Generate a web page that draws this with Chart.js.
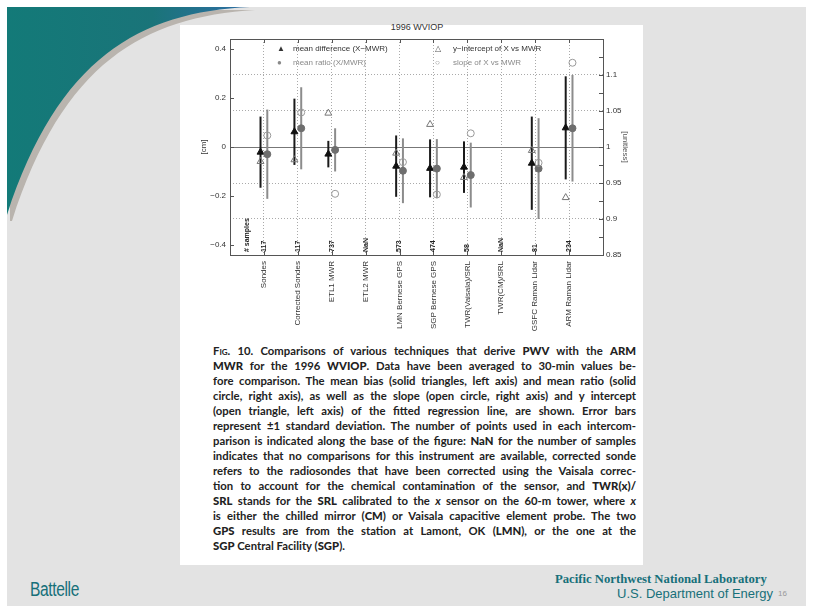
<!DOCTYPE html>
<html>
<head>
<meta charset="utf-8">
<script src="https://cdn.jsdelivr.net/npm/chart.js@4.4.1/dist/chart.umd.min.js"></script>
<style>
  body { margin: 0; width: 813px; height: 612px; background: #fff; overflow: hidden; position: relative; font-family: "Liberation Sans", Arial, sans-serif; }
  #slide { position: absolute; left: 7px; top: 7px; width: 799px; height: 599px; background: #e3e3e3; }
  #swoosh { position: absolute; left: 0; top: 0; }
  #panel { position: absolute; left: 180px; top: 25px; width: 463px; height: 540px; background: #fff; }
  #box { position: absolute; left: 180px; top: 16px; width: 460px; height: 324px; }
  .t { position: absolute; white-space: nowrap; }
  #title { left: 417px; top: 22px; transform: translateX(-50%); font-size: 9px; color: #333; }
  .leg { font-size: 8px; color: #333; line-height: 10px; }
  .gray { color: #8a8a8a; }
  #caption { position: absolute; left: 213px; top: 343px; width: 423px; font-family: Lato, "Open Sans", sans-serif; font-weight: 700; font-size: 11.3px; line-height: 15px; color: #222; }
  #caption div { text-align: justify; text-align-last: justify; white-space: nowrap; }
  #caption div.last { text-align-last: left; }
  #caption b { font-weight: 900; }
  .sc { font-variant: small-caps; }
  #battelle { left: 30px; top: 578px; font-family: "Liberation Sans", sans-serif; font-size: 20px; color: #17707a; transform: scaleX(0.78); transform-origin: left top; letter-spacing: -0.5px; }
  #pnnl { left: 555px; top: 571px; font-family: "Liberation Serif", serif; font-weight: 700; font-size: 13.5px; color: #17707a; transform: scaleX(0.94); transform-origin: left top; }
  #doe { left: 617px; top: 586px; font-family: "Liberation Sans", sans-serif; font-size: 13px; color: #17707a; }
  #page { left: 778px; top: 589px; font-size: 8px; color: #999; }
</style>
</head>
<body>
<div id="slide"></div>
<svg id="swoosh" width="813" height="612">
  <defs>
    <linearGradient id="tg" x1="0" y1="0" x2="1" y2="0">
      <stop offset="0" stop-color="#137a78"/>
      <stop offset="0.6" stop-color="#1a7479"/>
      <stop offset="1" stop-color="#2e6ea6"/>
    </linearGradient>
  </defs>
  <path d="M7,7 L252,7 C140,14 60,60 9,218 L7,218 Z" fill="#b9b4ae" transform="translate(3,3)"/>
  <path d="M7,7 L250,7 C140,12 58,58 7,215 Z" fill="url(#tg)"/>
</svg>
<div id="panel"></div>

<div class="t" id="title">1996 WVIOP</div>
<div id="box"><canvas id="chart"></canvas></div>

<div class="t leg" style="left:277px;top:44px;">▲</div>
<div class="t leg" style="left:293px;top:44px;">mean difference (X−MWR)</div>
<div class="t leg gray" style="left:277px;top:58px;">●</div>
<div class="t leg gray" style="left:293px;top:58px;">mean ratio (X/MWR)</div>
<div class="t leg" style="left:435px;top:44px;color:#555;">△</div>
<div class="t leg" style="left:453px;top:44px;">y−intercept of X vs MWR</div>
<div class="t leg gray" style="left:435px;top:58px;">○</div>
<div class="t leg gray" style="left:453px;top:58px;">slope of X vs MWR</div>

<div id="caption">
  <div><span class="sc">Fig</span>. 10. Comparisons of various techniques that derive <b>PWV</b> with the <b>ARM</b></div>
  <div><b>MWR</b> for the 1996 <b>WVIOP</b>. Data have been averaged to 30-min values be-</div>
  <div>fore comparison. The mean bias (solid triangles, left axis) and mean ratio (solid</div>
  <div>circle, right axis), as well as the slope (open circle, right axis) and y intercept</div>
  <div>(open triangle, left axis) of the fitted regression line, are shown. Error bars</div>
  <div>represent ±1 standard deviation. The number of points used in each intercom-</div>
  <div>parison is indicated along the base of the figure: <b>NaN</b> for the number of samples</div>
  <div>indicates that no comparisons for this instrument are available, corrected sonde</div>
  <div>refers to the radiosondes that have been corrected using the Vaisala correc-</div>
  <div>tion to account for the chemical contamination of the sensor, and <b>TWR(x)/</b></div>
  <div><b>SRL</b> stands for the <b>SRL</b> calibrated to the <i>x</i> sensor on the 60-m tower, where <i>x</i></div>
  <div>is either the chilled mirror (<b>CM</b>) or Vaisala capacitive element probe. The two</div>
  <div><b>GPS</b> results are from the station at Lamont, OK (<b>LMN</b>), or the one at the</div>
  <div class="last"><b>SGP</b> Central Facility (<b>SGP</b>).</div>
</div>

<div class="t" id="battelle">Battelle</div>
<div class="t" id="pnnl">Pacific Northwest National Laboratory</div>
<div class="t" id="doe">U.S. Department of Energy</div>
<div class="t" id="page">16</div>

<script>
// instruments compared against the ARM MWR
let categories = ['Sondes', 'Corrected Sondes', 'ETL1 MWR', 'ETL2 MWR', 'LMN Bernese GPS', 'SGP Bernese GPS',
                  'TWR(Vaisala)/SRL', 'TWR(CM)/SRL', 'GSFC Raman Lidar', 'ARM Raman Lidar'];
let samples = ['117', '117', '737', 'NaN', '573', '474', '58', 'NaN', '81', '234'];

// left axis [cm]
let meanDiff   = [-0.021, 0.062, -0.029, null, -0.078, -0.087, -0.082, null, -0.066, 0.078];
let meanDiffSd = [0.145, 0.135, 0.054, null, 0.125, 0.118, 0.105, null, 0.190, 0.210];
let yIntercept = [-0.059, -0.052, 0.138, null, -0.025, 0.092, -0.124, null, -0.014, -0.206];

// right axis [unitless]
let meanRatio   = [0.990, 1.026, 0.996, null, 0.967, 0.970, 0.961, null, 0.970, 1.026];
let meanRatioSd = [0.062, 0.057, 0.030, null, 0.045, 0.041, 0.045, null, 0.070, 0.074];
let slope       = [1.016, 1.048, 0.935, null, 0.979, 0.934, 1.019, null, 0.978, 1.117];

let leftTicks = [-0.4, -0.2, 0, 0.2, 0.4];
let rightTicks = [0.85, 0.9, 0.95, 1, 1.05, 1.1];

const OFF = 0.1;
function pts(arr, dx) {
    let out = [];
    arr.forEach(function(v, i) { if (v !== null) out.push({x: i + 1 + dx, y: v}); });
    return out;
}

const tickFont = {family: 'Liberation Sans', size: 8};

const errorBars = {
    id: 'errorBars',
    beforeDatasetsDraw(chart) {
        const {ctx, scales: {x, y, y1}} = chart;
        ctx.save();
        ctx.lineWidth = 2;
        categories.forEach(function(c, i) {
            if (meanRatio[i] !== null) {
                let px = x.getPixelForValue(i + 1 + OFF);
                ctx.strokeStyle = '#8c8c8c';
                ctx.beginPath();
                ctx.moveTo(px, y1.getPixelForValue(meanRatio[i] - meanRatioSd[i]));
                ctx.lineTo(px, y1.getPixelForValue(meanRatio[i] + meanRatioSd[i]));
                ctx.stroke();
            }
            if (meanDiff[i] !== null) {
                let px = x.getPixelForValue(i + 1 - OFF);
                ctx.strokeStyle = '#1a1a1a';
                ctx.beginPath();
                ctx.moveTo(px, y.getPixelForValue(meanDiff[i] - meanDiffSd[i]));
                ctx.lineTo(px, y.getPixelForValue(meanDiff[i] + meanDiffSd[i]));
                ctx.stroke();
            }
        });
        ctx.restore();
    },
    afterDraw(chart) {
        const {ctx, chartArea: a, scales: {x, y, y1}} = chart;
        ctx.save();
        // frame + inward ticks
        ctx.strokeStyle = '#555';
        ctx.lineWidth = 1;
        ctx.strokeRect(a.left + 0.5, a.top + 0.5, a.right - a.left, a.bottom - a.top);
        ctx.beginPath();
        leftTicks.forEach(function(v) {
            let py = Math.round(y.getPixelForValue(v)) + 0.5;
            ctx.moveTo(a.left, py); ctx.lineTo(a.left + 4, py);
        });
        rightTicks.concat([0.875, 0.925, 0.975, 1.025, 1.075, 1.125]).forEach(function(v) {
            let py = Math.round(y1.getPixelForValue(v)) + 0.5;
            ctx.moveTo(a.right, py); ctx.lineTo(a.right - 4, py);
        });
        categories.forEach(function(c, i) {
            let px = Math.round(x.getPixelForValue(i + 1)) + 0.5;
            ctx.moveTo(px, a.top); ctx.lineTo(px, a.top + 4);
            ctx.moveTo(px, a.bottom); ctx.lineTo(px, a.bottom - 4);
        });
        ctx.stroke();
        // number of samples along the base
        ctx.fillStyle = '#222';
        ctx.font = 'bold 7px "Liberation Sans"';
        ctx.textBaseline = 'middle';
        ctx.textAlign = 'left';
        let lbl = [['# samples', 0.5]].concat(samples.map(function(s, i) { return [s, i + 1]; }));
        lbl.forEach(function(l) {
            ctx.save();
            ctx.translate(x.getPixelForValue(l[1]), a.bottom - 3);
            ctx.rotate(-Math.PI / 2);
            ctx.fillText(l[0], 0, 0);
            ctx.restore();
        });
        ctx.restore();
    }
};

new Chart('chart', {
    type: 'scatter',
    data: {
        datasets: [
            {data: pts(yIntercept, -OFF), yAxisID: 'y', pointStyle: 'triangle', pointRadius: 4,
             backgroundColor: 'rgba(255,255,255,0)', borderColor: '#777', borderWidth: 1},
            {data: pts(slope, OFF), yAxisID: 'y1', pointStyle: 'circle', pointRadius: 3.5,
             backgroundColor: 'rgba(255,255,255,0)', borderColor: '#999', borderWidth: 1},
            {data: pts(meanRatio, OFF), yAxisID: 'y1', pointStyle: 'circle', pointRadius: 3.5,
             backgroundColor: '#6e6e6e', borderColor: '#6e6e6e', borderWidth: 1},
            {data: pts(meanDiff, -OFF), yAxisID: 'y', pointStyle: 'triangle', pointRadius: 4,
             backgroundColor: '#111', borderColor: '#111', borderWidth: 1}
        ]
    },
    options: {
        responsive: true,
        maintainAspectRatio: false,
        animation: false,
        layout: {padding: {top: 23, left: 0, right: 0, bottom: 0}},
        plugins: {legend: {display: false}, tooltip: {enabled: false}},
        scales: {
            x: {
                type: 'linear', min: 0, max: 11,
                afterBuildTicks: function(s) { s.ticks = categories.map(function(c, i) { return {value: i + 1}; }); },
                afterFit: function(s) { s.height = 85; },
                ticks: {
                    autoSkip: false, minRotation: 90, maxRotation: 90, padding: 6,
                    color: '#333', font: tickFont,
                    callback: function(v) { return categories[v - 1] || ''; }
                },
                grid: {color: '#aaa', drawTicks: false},
                border: {display: false, dash: [1, 2]}
            },
            y: {
                position: 'left', min: -0.44, max: 0.44,
                afterBuildTicks: function(s) { s.ticks = leftTicks.map(function(v) { return {value: v}; }); },
                afterFit: function(s) { s.width = 50; },
                ticks: {padding: 4, color: '#333', font: tickFont,
                        callback: function(v) { return String(Number(v.toFixed(2))).replace('-', '−'); }},
                grid: {drawTicks: false, color: function(c) { return c.tick && c.tick.value === 0 ? '#777' : 'rgba(0,0,0,0)'; }},
                border: {display: false},
                title: {display: true, text: '[cm]', color: '#333', font: tickFont, padding: {top: 19, bottom: 0}}
            },
            y1: {
                position: 'right', min: 0.85, max: 1.15,
                afterBuildTicks: function(s) { s.ticks = rightTicks.map(function(v) { return {value: v}; }); },
                afterFit: function(s) { s.width = 37; },
                ticks: {padding: 3, color: '#333', font: tickFont,
                        callback: function(v) { return String(Number(v.toFixed(2))); }},
                grid: {drawTicks: false, color: function(c) { return c.tick && c.tick.value === 1 ? 'rgba(0,0,0,0)' : '#aaa'; }},
                border: {display: false, dash: [1, 2]},
                title: {display: true, text: '[unitless]', color: '#555', font: tickFont, padding: {top: 10, bottom: 0}}
            }
        }
    },
    plugins: [errorBars]
});
</script>
</body>
</html>
